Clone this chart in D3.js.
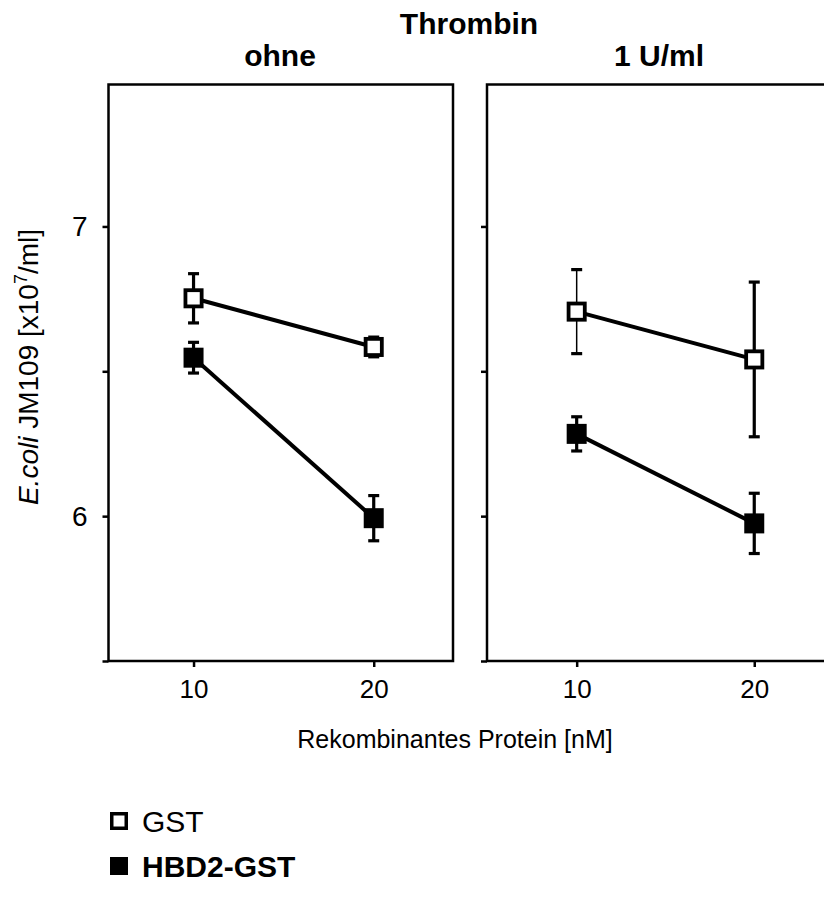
<!DOCTYPE html>
<html>
<head>
<meta charset="utf-8">
<script src="https://cdn.jsdelivr.net/npm/d3@7"></script>
<style>
  body { margin: 0; background: #fff; }
  svg { display: block; font-family: "Liberation Sans", Arial, sans-serif; }
</style>
</head>
<body>
<div id="chart"></div>
<script>
// Données
const concentrations = [10, 20];
const panelNames = ["ohne", "1 U/ml"];
const seriesNames = ["GST", "HBD2-GST"];

// ohne Thrombin
const gstOhne = [6.752, 6.584];
const gstOhneErr = [0.085, 0.034];
const hbdOhne = [6.547, 5.993];
const hbdOhneErr = [0.053, 0.078];

// 1 U/ml Thrombin
const gstThr = [6.706, 6.541];
const gstThrErr = [0.145, 0.267];
const hbdThr = [6.284, 5.975];
const hbdThrErr = [0.059, 0.104];

const yTicks = [5.5, 6, 6.5, 7];
const yTickLabels = ["", "6", "", "7"];
const xTicks = [10, 20];

// Dimensions
const W = 824, H = 903;
const plotTop = 84.5, plotBottom = 661;

const svg = d3.select("#chart").append("svg")
    .attr("width", W)
    .attr("height", H);

const y = d3.scaleLinear().domain([5.5, 7.49]).range([plotBottom, plotTop]);

// un panneau par condition
const panels = [
    { name: panelNames[0], x: d3.scaleLinear().domain([5.28, 24.4]).range([108.5, 453]),
      series: [
        { name: seriesNames[0], values: gstOhne, err: gstOhneErr, open: true },
        { name: seriesNames[1], values: hbdOhne, err: hbdOhneErr, open: false }
      ], labels: true },
    { name: panelNames[1], x: d3.scaleLinear().domain([4.95, 24.35]).range([487, 831.5]),
      series: [
        { name: seriesNames[0], values: gstThr, err: gstThrErr, open: true, thin: [true, false] },
        { name: seriesNames[1], values: hbdThr, err: hbdThrErr, open: false }
      ], labels: false }
];

const marker = 20;
const openStroke = 3.8;

panels.forEach(p => {
    const x = p.x;
    const g = svg.append("g");

    // Cadre
    g.append("rect")
        .attr("x", x.range()[0])
        .attr("y", plotTop)
        .attr("width", x.range()[1] - x.range()[0])
        .attr("height", plotBottom - plotTop)
        .attr("fill", "none")
        .attr("stroke", "#000")
        .attr("stroke-width", 2.5);

    // Axe Y
    const yAxis = g.append("g")
        .attr("transform", `translate(${x.range()[0]},0)`)
        .call(d3.axisLeft(y).tickValues(yTicks).tickSize(6).tickPadding(15)
            .tickFormat((d, i) => p.labels ? yTickLabels[i] : ""));
    yAxis.select(".domain").remove();
    yAxis.selectAll(".tick line").attr("stroke-width", 2.5);
    yAxis.selectAll("text")
        .style("font-size", "28px")
        .style("fill", "#000")
        .attr("font-family", null);

    // Axe X
    const xAxis = g.append("g")
        .attr("transform", `translate(0,${plotBottom})`)
        .call(d3.axisBottom(x).tickValues(xTicks).tickSize(6).tickPadding(13));
    xAxis.select(".domain").remove();
    xAxis.selectAll(".tick line").attr("stroke-width", 2.5);
    xAxis.selectAll("text")
        .style("font-size", "26px")
        .style("fill", "#000")
        .attr("font-family", null);

    // Titre du panneau
    svg.append("text")
        .attr("x", p.labels ? 280 : 659)
        .attr("y", 66)
        .attr("text-anchor", "middle")
        .style("font-size", "30px")
        .style("font-weight", "bold")
        .text(p.name);

    const line = d3.line()
        .x((d, i) => x(concentrations[i]))
        .y(d => y(d));

    // Lignes
    p.series.forEach(s => {
        g.append("path")
            .datum(s.values)
            .attr("d", line)
            .attr("fill", "none")
            .attr("stroke", "#000")
            .attr("stroke-width", 4);
    });

    // Barres d'erreur
    p.series.forEach(s => {
        s.values.forEach((v, i) => {
            const cx = x(concentrations[i]);
            const sw = s.thin && s.thin[i] ? 1.5 : 3.2;
            const e = g.append("g").attr("stroke", "#000");
            e.append("line")
                .attr("x1", cx).attr("x2", cx)
                .attr("y1", y(v + s.err[i])).attr("y2", y(v - s.err[i]))
                .attr("stroke-width", sw);
            [v + s.err[i], v - s.err[i]].forEach(t => {
                e.append("line")
                    .attr("x1", cx - 5.5).attr("x2", cx + 5.5)
                    .attr("y1", y(t)).attr("y2", y(t))
                    .attr("stroke-width", 3.2);
            });
        });
    });

    // Symboles
    p.series.forEach(s => {
        const size = s.open ? marker - openStroke : marker;
        g.selectAll(null)
            .data(s.values)
            .enter()
            .append("rect")
            .attr("x", (d, i) => x(concentrations[i]) - size / 2)
            .attr("y", d => y(d) - size / 2)
            .attr("width", size)
            .attr("height", size)
            .attr("fill", s.open ? "#fff" : "#000")
            .attr("stroke", s.open ? "#000" : "none")
            .attr("stroke-width", openStroke);
    });
});

// Titre général
svg.append("text")
    .attr("x", 469)
    .attr("y", 34)
    .attr("text-anchor", "middle")
    .style("font-size", "30px")
    .style("font-weight", "bold")
    .text("Thrombin");

// Titre axe X
svg.append("text")
    .attr("x", 455)
    .attr("y", 748)
    .attr("text-anchor", "middle")
    .style("font-size", "25px")
    .text("Rekombinantes Protein [nM]");

// Titre axe Y
const yTitle = svg.append("text")
    .attr("transform", "translate(38,367) rotate(-90)")
    .attr("text-anchor", "middle")
    .style("font-size", "28px");
yTitle.append("tspan").style("font-style", "italic").text("E.coli");
yTitle.append("tspan").text(" JM109 [x10");
yTitle.append("tspan").attr("dy", -11).style("font-size", "18px").text("7");
yTitle.append("tspan").attr("dy", 11).text("/ml]");

// Légende
const legend = svg.append("g");
seriesNames.forEach((name, i) => {
    const row = legend.append("g").attr("transform", `translate(110,${i === 0 ? 821 : 866})`);
    row.append("rect")
        .attr("x", i === 0 ? 1.75 : 0)
        .attr("y", i === 0 ? -7.25 : -9)
        .attr("width", i === 0 ? 14.5 : 18)
        .attr("height", i === 0 ? 14.5 : 18)
        .attr("fill", i === 0 ? "#fff" : "#000")
        .attr("stroke", i === 0 ? "#000" : "none")
        .attr("stroke-width", 3.5);
    row.append("text")
        .attr("x", 32)
        .attr("y", 11)
        .style("font-size", "30px")
        .style("font-weight", i === 0 ? "normal" : "bold")
        .text(name);
});
</script>
</body>
</html>
